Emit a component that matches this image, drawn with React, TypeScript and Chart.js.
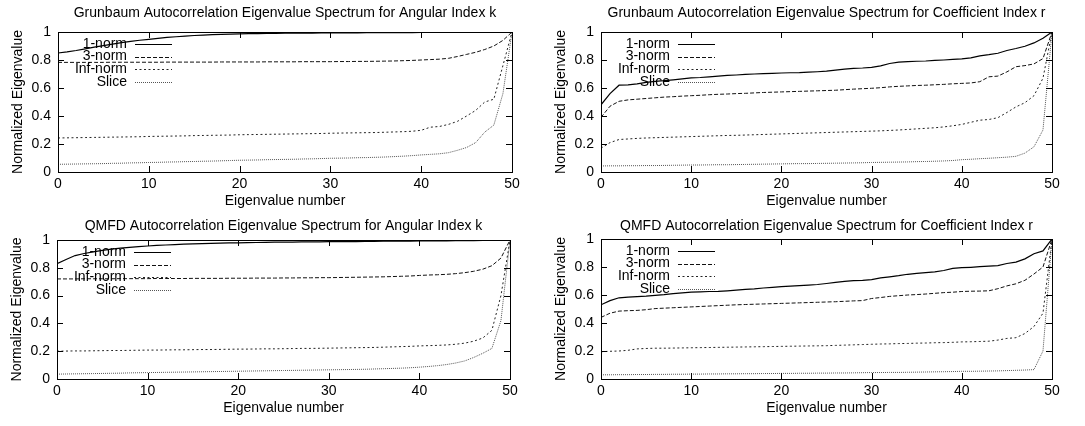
import React, { useEffect, useRef } from "react";
import { Chart, registerables } from "chart.js";

Chart.register(...registerables);

// ---------- data ----------
const eigenNumber = [
  0, 1, 2, 3, 4, 5, 6, 7, 8, 9, 10, 11, 12, 13, 14, 15, 16, 17, 18, 19, 20, 21, 22, 23, 24, 25,
  26, 27, 28, 29, 30, 31, 32, 33, 34, 35, 36, 37, 38, 39, 40, 41, 42, 43, 44, 45, 46, 47, 48, 49, 50,
];
const xTicks = [0, 10, 20, 30, 40, 50];
const yTicks = [0, 0.2, 0.4, 0.6, 0.8, 1];
const seriesNames = ["1-norm", "3-norm", "Inf-norm", "Slice"];
const panelTitles = [
  "Grunbaum Autocorrelation Eigenvalue Spectrum for Angular Index k",
  "Grunbaum Autocorrelation Eigenvalue Spectrum for Coefficient Index r",
  "QMFD Autocorrelation Eigenvalue Spectrum for Angular Index k",
  "QMFD Autocorrelation Eigenvalue Spectrum for Coefficient Index r",
];
const xAxisLabel = "Eigenvalue number";
const yAxisLabel = "Normalized Eigenvalue";

// Grunbaum, angular index k
const grunbaumK1Norm = [
  0.850, 0.858, 0.868, 0.880, 0.892, 0.903, 0.914, 0.924, 0.933, 0.941, 0.948,
  0.955, 0.961, 0.966, 0.971, 0.975, 0.978, 0.981, 0.983, 0.985, 0.987,
  0.988, 0.989, 0.990, 0.990, 0.991, 0.991, 0.992, 0.992, 0.993, 0.993,
  0.994, 0.994, 0.994, 0.995, 0.995, 0.995, 0.996, 0.996, 0.996, 0.997,
  0.997, 0.997, 0.997, 0.998, 0.998, 0.998, 0.999, 0.999, 0.999, 1.000,
];
const grunbaumK3Norm = [
  0.783, 0.783, 0.783, 0.783, 0.783, 0.783, 0.784, 0.784, 0.784, 0.784, 0.784,
  0.784, 0.785, 0.785, 0.785, 0.785, 0.785, 0.785, 0.786, 0.786, 0.786,
  0.786, 0.786, 0.787, 0.787, 0.787, 0.787, 0.788, 0.788, 0.788, 0.788,
  0.789, 0.789, 0.790, 0.790, 0.791, 0.792, 0.793, 0.795, 0.797, 0.800,
  0.803, 0.806, 0.812, 0.825, 0.840, 0.855, 0.875, 0.900, 0.940, 1.000,
];
const grunbaumKInfNorm = [
  0.243, 0.244, 0.245, 0.246, 0.247, 0.248, 0.249, 0.250, 0.251, 0.252, 0.254,
  0.255, 0.256, 0.257, 0.258, 0.260, 0.261, 0.262, 0.263, 0.264, 0.266,
  0.267, 0.268, 0.269, 0.270, 0.271, 0.272, 0.273, 0.274, 0.275, 0.277,
  0.278, 0.279, 0.280, 0.281, 0.282, 0.284, 0.286, 0.288, 0.291, 0.298,
  0.320, 0.325, 0.340, 0.362, 0.400, 0.440, 0.500, 0.520, 0.760, 1.000,
];
const grunbaumKSlice = [
  0.055, 0.056, 0.057, 0.058, 0.059, 0.060, 0.062, 0.063, 0.065, 0.066, 0.068,
  0.069, 0.071, 0.072, 0.074, 0.075, 0.077, 0.078, 0.080, 0.082, 0.084,
  0.085, 0.086, 0.088, 0.089, 0.090, 0.091, 0.093, 0.094, 0.096, 0.098,
  0.099, 0.100, 0.102, 0.103, 0.105, 0.107, 0.110, 0.113, 0.117, 0.122,
  0.126, 0.130, 0.138, 0.155, 0.175, 0.210, 0.285, 0.335, 0.560, 1.000,
];

// Grunbaum, coefficient index r
const grunbaumR1Norm = [
  0.480, 0.560, 0.620, 0.622, 0.630, 0.640, 0.648, 0.652, 0.658, 0.665, 0.672,
  0.675, 0.680, 0.685, 0.690, 0.693, 0.697, 0.700, 0.702, 0.705, 0.707,
  0.709, 0.710, 0.713, 0.716, 0.720, 0.728, 0.735, 0.740, 0.743, 0.748,
  0.758, 0.775, 0.785, 0.789, 0.791, 0.793, 0.797, 0.800, 0.804, 0.808,
  0.815, 0.830, 0.838, 0.848, 0.868, 0.882, 0.898, 0.922, 0.955, 1.000,
];
const grunbaumR3Norm = [
  0.390, 0.470, 0.505, 0.515, 0.520, 0.525, 0.530, 0.535, 0.538, 0.542, 0.545,
  0.548, 0.552, 0.555, 0.557, 0.560, 0.562, 0.565, 0.568, 0.570, 0.572,
  0.574, 0.576, 0.578, 0.580, 0.582, 0.584, 0.588, 0.592, 0.595, 0.598,
  0.602, 0.608, 0.612, 0.615, 0.618, 0.620, 0.623, 0.626, 0.630, 0.633,
  0.636, 0.645, 0.680, 0.685, 0.715, 0.752, 0.760, 0.772, 0.810, 1.000,
];
const grunbaumRInfNorm = [
  0.170, 0.210, 0.232, 0.236, 0.240, 0.243, 0.245, 0.247, 0.249, 0.251, 0.253,
  0.255, 0.257, 0.259, 0.261, 0.262, 0.264, 0.266, 0.268, 0.270, 0.272,
  0.274, 0.276, 0.278, 0.280, 0.282, 0.284, 0.286, 0.288, 0.290, 0.292,
  0.294, 0.297, 0.300, 0.304, 0.308, 0.312, 0.316, 0.322, 0.330, 0.340,
  0.355, 0.370, 0.375, 0.388, 0.425, 0.465, 0.495, 0.545, 0.670, 1.000,
];
const grunbaumRSlice = [
  0.043, 0.044, 0.044, 0.045, 0.045, 0.046, 0.046, 0.047, 0.048, 0.049, 0.050,
  0.050, 0.051, 0.052, 0.052, 0.053, 0.054, 0.055, 0.056, 0.057, 0.058,
  0.059, 0.060, 0.060, 0.061, 0.062, 0.063, 0.064, 0.065, 0.066, 0.068,
  0.069, 0.070, 0.071, 0.072, 0.074, 0.075, 0.077, 0.079, 0.082, 0.088,
  0.091, 0.095, 0.098, 0.102, 0.106, 0.112, 0.135, 0.180, 0.300, 1.000,
];

// QMFD, angular index k
const qmfdK1Norm = [
  0.830, 0.860, 0.888, 0.903, 0.915, 0.925, 0.934, 0.941, 0.947, 0.952, 0.957,
  0.961, 0.964, 0.967, 0.970, 0.972, 0.974, 0.976, 0.978, 0.979, 0.980,
  0.981, 0.982, 0.983, 0.984, 0.985, 0.985, 0.986, 0.987, 0.987, 0.988,
  0.988, 0.989, 0.989, 0.990, 0.990, 0.991, 0.991, 0.992, 0.992, 0.993,
  0.993, 0.994, 0.994, 0.995, 0.995, 0.996, 0.997, 0.998, 0.999, 1.000,
];
const qmfdK3Norm = [
  0.720, 0.720, 0.720, 0.721, 0.721, 0.721, 0.721, 0.722, 0.722, 0.722, 0.722,
  0.723, 0.723, 0.723, 0.723, 0.724, 0.724, 0.724, 0.724, 0.725, 0.725,
  0.725, 0.726, 0.726, 0.726, 0.727, 0.727, 0.728, 0.728, 0.729, 0.729,
  0.730, 0.731, 0.732, 0.733, 0.734, 0.735, 0.737, 0.739, 0.741, 0.745,
  0.748, 0.750, 0.753, 0.758, 0.765, 0.775, 0.790, 0.815, 0.870, 1.000,
];
const qmfdKInfNorm = [
  0.200, 0.201, 0.202, 0.202, 0.203, 0.204, 0.205, 0.205, 0.206, 0.207, 0.208,
  0.208, 0.209, 0.210, 0.210, 0.211, 0.212, 0.212, 0.213, 0.214, 0.215,
  0.215, 0.216, 0.217, 0.217, 0.218, 0.219, 0.220, 0.220, 0.221, 0.222,
  0.223, 0.224, 0.225, 0.226, 0.227, 0.229, 0.231, 0.233, 0.235, 0.238,
  0.240, 0.242, 0.245, 0.250, 0.258, 0.272, 0.295, 0.350, 0.600, 1.000,
];
const qmfdKSlice = [
  0.035, 0.036, 0.037, 0.038, 0.039, 0.040, 0.041, 0.042, 0.044, 0.045, 0.046,
  0.047, 0.048, 0.049, 0.050, 0.051, 0.052, 0.053, 0.054, 0.055, 0.056,
  0.057, 0.058, 0.059, 0.060, 0.061, 0.062, 0.063, 0.064, 0.065, 0.066,
  0.067, 0.068, 0.069, 0.070, 0.072, 0.074, 0.076, 0.078, 0.081, 0.085,
  0.090, 0.096, 0.104, 0.115, 0.130, 0.155, 0.185, 0.220, 0.420, 1.000,
];

// QMFD, coefficient index r
const qmfdR1Norm = [
  0.530, 0.560, 0.580, 0.585, 0.588, 0.592, 0.598, 0.603, 0.610, 0.615, 0.620,
  0.623, 0.625, 0.626, 0.630, 0.635, 0.640, 0.644, 0.650, 0.655, 0.660,
  0.663, 0.667, 0.671, 0.675, 0.682, 0.690, 0.698, 0.702, 0.705, 0.710,
  0.722, 0.730, 0.738, 0.748, 0.755, 0.760, 0.765, 0.775, 0.790, 0.795,
  0.798, 0.802, 0.806, 0.810, 0.825, 0.835, 0.858, 0.895, 0.915, 1.000,
];
const qmfdR3Norm = [
  0.440, 0.470, 0.485, 0.488, 0.490, 0.495, 0.503, 0.506, 0.509, 0.512, 0.515,
  0.518, 0.521, 0.524, 0.527, 0.530, 0.532, 0.534, 0.536, 0.538, 0.540,
  0.542, 0.544, 0.546, 0.548, 0.550, 0.552, 0.555, 0.558, 0.560, 0.575,
  0.582, 0.590, 0.595, 0.600, 0.603, 0.607, 0.612, 0.617, 0.620, 0.625,
  0.627, 0.628, 0.630, 0.645, 0.665, 0.680, 0.705, 0.750, 0.800, 1.000,
];
const qmfdRInfNorm = [
  0.195, 0.198, 0.200, 0.205, 0.215, 0.218, 0.220, 0.220, 0.221, 0.222, 0.223,
  0.224, 0.225, 0.226, 0.227, 0.228, 0.229, 0.230, 0.231, 0.232, 0.233,
  0.234, 0.235, 0.236, 0.237, 0.238, 0.240, 0.242, 0.244, 0.246, 0.248,
  0.250, 0.251, 0.253, 0.254, 0.256, 0.257, 0.259, 0.260, 0.262, 0.265,
  0.266, 0.268, 0.270, 0.278, 0.290, 0.295, 0.325, 0.375, 0.470, 1.000,
];
const qmfdRSlice = [
  0.030, 0.030, 0.031, 0.031, 0.032, 0.032, 0.033, 0.033, 0.034, 0.034, 0.035,
  0.035, 0.036, 0.036, 0.037, 0.037, 0.038, 0.038, 0.039, 0.039, 0.040,
  0.040, 0.041, 0.041, 0.042, 0.042, 0.043, 0.043, 0.044, 0.045, 0.046,
  0.046, 0.047, 0.047, 0.048, 0.049, 0.050, 0.051, 0.052, 0.053, 0.055,
  0.055, 0.056, 0.057, 0.058, 0.060, 0.062, 0.064, 0.067, 0.200, 1.000,
];

// ---------- styles ----------
const FONT_FAMILY = "'Liberation Sans', Arial, Helvetica, sans-serif";
const FONT_SIZE = 14;
const lineStyles = [
  { color: "#000000", width: 1.2, dash: [] as number[] },
  { color: "#111111", width: 1, dash: [4, 2] },
  { color: "#222222", width: 1, dash: [2, 2.5] },
  { color: "#555555", width: 1, dash: [1, 1] },
];

type PanelLayout = { x: number; y: number; w: number; h: number; L: number; R: number; T: number; B: number };
const Y_AXIS_W = 50;
const X_AXIS_H = 40;

const panels: { title: string; series: number[][]; layout: PanelLayout }[] = [
  {
    title: panelTitles[0],
    series: [grunbaumK1Norm, grunbaumK3Norm, grunbaumKInfNorm, grunbaumKSlice],
    layout: { x: 0, y: 0, w: 542, h: 213, L: 58, R: 512, T: 32, B: 172 },
  },
  {
    title: panelTitles[1],
    series: [grunbaumR1Norm, grunbaumR3Norm, grunbaumRInfNorm, grunbaumRSlice],
    layout: { x: 542, y: 0, w: 543, h: 213, L: 59, R: 510, T: 32, B: 172 },
  },
  {
    title: panelTitles[2],
    series: [qmfdK1Norm, qmfdK3Norm, qmfdKInfNorm, qmfdKSlice],
    layout: { x: 0, y: 213, w: 542, h: 213, L: 57, R: 510, T: 27, B: 166 },
  },
  {
    title: panelTitles[3],
    series: [qmfdR1Norm, qmfdR3Norm, qmfdRInfNorm, qmfdRSlice],
    layout: { x: 542, y: 213, w: 543, h: 213, L: 59, R: 510, T: 26, B: 166 },
  },
];

const gnuplotFrame = {
  id: "gnuplotFrame",
  afterDatasetsDraw(chart: any, _args: any, opts: any) {
    const { ctx, chartArea } = chart;
    const { left, right, top, bottom } = chartArea;
    const xs = chart.scales.x;
    const ys = chart.scales.y;
    ctx.save();
    // legend (key)
    ctx.font = `${FONT_SIZE}px ${FONT_FAMILY}`;
    ctx.textAlign = "right";
    ctx.textBaseline = "middle";
    chart.data.datasets.forEach((ds: any, i: number) => {
      const yy = top + 12 + i * 12.6;
      ctx.fillStyle = "#000";
      ctx.fillText(ds.label, left + 69, yy);
      ctx.beginPath();
      ctx.setLineDash(ds.borderDash || []);
      ctx.strokeStyle = ds.borderColor;
      ctx.lineWidth = ds.borderWidth;
      ctx.moveTo(left + 77, Math.round(yy) + 0.5);
      ctx.lineTo(left + 114, Math.round(yy) + 0.5);
      ctx.stroke();
    });
    ctx.setLineDash([]);
    // border
    ctx.strokeStyle = "#000";
    ctx.lineWidth = 1;
    ctx.strokeRect(Math.round(left) + 0.5, Math.round(top) + 0.5, Math.round(right - left), Math.round(bottom - top));
    // inward ticks, mirrored
    const tl = 6;
    ctx.beginPath();
    xTicks.forEach((v) => {
      const px = Math.round(xs.getPixelForValue(v)) + 0.5;
      ctx.moveTo(px, bottom);
      ctx.lineTo(px, bottom - tl);
      ctx.moveTo(px, top);
      ctx.lineTo(px, top + tl);
    });
    yTicks.forEach((v) => {
      const py = Math.round(ys.getPixelForValue(v)) + 0.5;
      ctx.moveTo(left, py);
      ctx.lineTo(left + tl, py);
      ctx.moveTo(right, py);
      ctx.lineTo(right - tl, py);
    });
    ctx.stroke();
    // title
    ctx.fillStyle = "#000";
    ctx.textAlign = "center";
    ctx.textBaseline = "middle";
    ctx.fillText(opts.text, (left + right) / 2, opts.titleY);
    ctx.restore();
  },
};

function Panel({ title, series, layout }: { title: string; series: number[][]; layout: PanelLayout }) {
  const ref = useRef<HTMLCanvasElement | null>(null);
  useEffect(() => {
    if (!ref.current) return;
    const font = { family: FONT_FAMILY, size: FONT_SIZE };
    const chart = new Chart(ref.current, {
      type: "line",
      data: {
        datasets: series.map((vals, i) => ({
          label: seriesNames[i],
          data: vals.map((v, j) => ({ x: eigenNumber[j], y: v })),
          borderColor: lineStyles[i].color,
          borderWidth: lineStyles[i].width,
          borderDash: lineStyles[i].dash,
          pointRadius: 0,
          tension: 0,
          fill: false,
        })),
      },
      options: {
        responsive: false,
        maintainAspectRatio: false,
        animation: false,
        events: [],
        layout: {
          padding: {
            left: layout.L - Y_AXIS_W,
            right: layout.w - layout.R,
            top: layout.T,
            bottom: layout.h - layout.B - X_AXIS_H,
          },
        },
        plugins: {
          legend: { display: false },
          tooltip: { enabled: false },
          title: { display: false },
          gnuplotFrame: { text: title, titleY: 13 },
        } as any,
        scales: {
          x: {
            type: "linear",
            min: 0,
            max: 50,
            afterBuildTicks: (s: any) => {
              s.ticks = xTicks.map((v) => ({ value: v }));
            },
            afterFit: (s: any) => {
              s.height = X_AXIS_H;
            },
            grid: { display: false, drawTicks: false },
            border: { display: false },
            ticks: { color: "#000", font, padding: 4, maxRotation: 0, autoSkip: false, callback: (v: any) => String(v) },
            title: { display: true, text: xAxisLabel, color: "#000", font, padding: { top: 0, bottom: 2 } },
          },
          y: {
            type: "linear",
            min: 0,
            max: 1,
            afterBuildTicks: (s: any) => {
              s.ticks = yTicks.map((v) => ({ value: v }));
            },
            afterFit: (s: any) => {
              s.width = Y_AXIS_W;
            },
            grid: { display: false, drawTicks: false },
            border: { display: false },
            ticks: { color: "#000", font, padding: 7, autoSkip: false, callback: (v: any) => String(v) },
            title: { display: true, text: yAxisLabel, color: "#000", font, padding: { top: 2, bottom: 0 } },
          },
        },
      },
      plugins: [gnuplotFrame],
    });
    return () => chart.destroy();
  }, []);
  return (
    <canvas
      ref={ref}
      width={layout.w}
      height={layout.h}
      style={{ position: "absolute", left: layout.x, top: layout.y, width: layout.w, height: layout.h }}
    />
  );
}

export default function App() {
  return (
    <div style={{ position: "fixed", left: 0, top: 0, width: 1085, height: 426, background: "#fff", overflow: "hidden" }}>
      {panels.map((p, i) => (
        <Panel key={i} title={p.title} series={p.series} layout={p.layout} />
      ))}
    </div>
  );
}
